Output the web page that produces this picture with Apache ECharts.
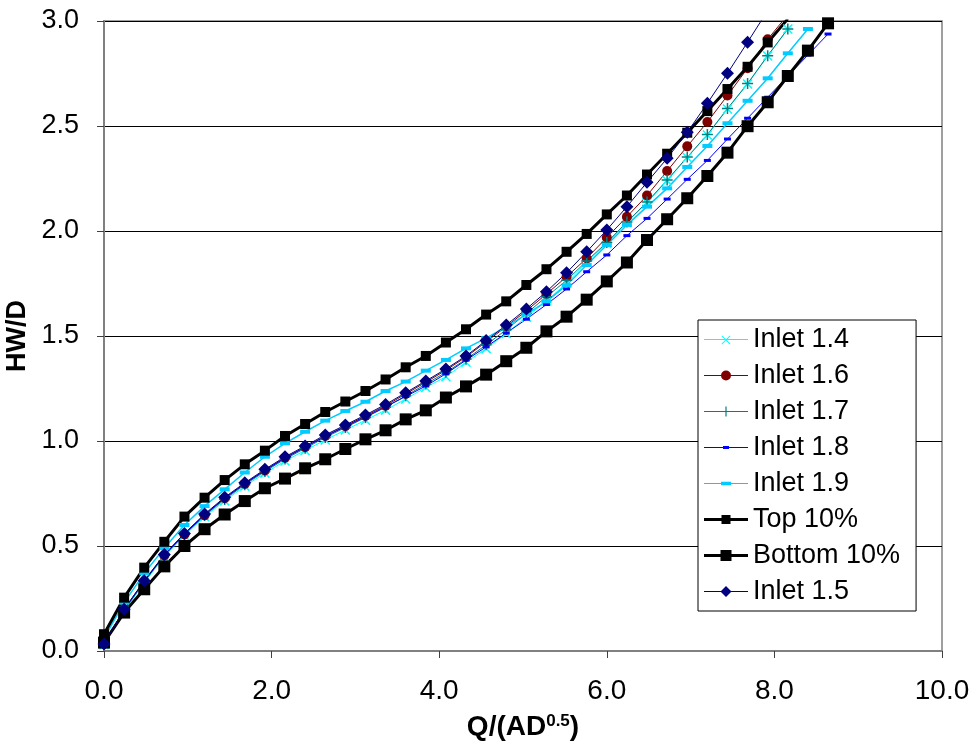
<!DOCTYPE html>
<html>
<head>
<meta charset="utf-8">
<title>Headwater depth vs. discharge</title>
<script src="https://cdn.jsdelivr.net/npm/echarts@6/dist/echarts.min.js"></script>
<style>
  html, body { margin: 0; padding: 0; background: #fff; }
  #chart { width: 975px; height: 746px; }
</style>
</head>
<body>
<div id="chart"></div>
<script>
// Discharge intensity Q/(A·D^0.5), shared by every curve
const q = [0, 0.24, 0.48, 0.72, 0.96, 1.2, 1.44, 1.68, 1.92, 2.16, 2.4, 2.64, 2.88, 3.12,
  3.36, 3.6, 3.84, 4.08, 4.32, 4.56, 4.8, 5.04, 5.28, 5.52, 5.76, 6.0, 6.24, 6.48, 6.72,
  6.96, 7.2, 7.44, 7.68, 7.92, 8.16, 8.4, 8.64];

// Headwater depth HW/D for each curve
const inlet14 = [0.030, 0.190, 0.325, 0.450, 0.550, 0.640, 0.715, 0.785, 0.847, 0.905, 0.955,
  1.005, 1.052, 1.099, 1.147, 1.200, 1.255, 1.306, 1.375, 1.440, 1.512, 1.590, 1.667, 1.751,
  1.851, 1.941, 2.040, 2.135, 2.240, 2.350, 2.457, 2.581, 2.700, 2.833, 2.962];
const inlet16 = [0.035, 0.195, 0.330, 0.455, 0.555, 0.646, 0.727, 0.796, 0.860, 0.920, 0.971,
  1.024, 1.071, 1.119, 1.168, 1.224, 1.280, 1.337, 1.400, 1.472, 1.545, 1.620, 1.700, 1.782,
  1.870, 1.969, 2.068, 2.169, 2.286, 2.403, 2.519, 2.645, 2.775, 2.913, 3.030];
const inlet17 = [0.032, 0.195, 0.330, 0.455, 0.555, 0.645, 0.722, 0.792, 0.855, 0.914, 0.965,
  1.017, 1.064, 1.112, 1.161, 1.215, 1.271, 1.327, 1.389, 1.458, 1.530, 1.607, 1.687, 1.765,
  1.857, 1.945, 2.043, 2.138, 2.243, 2.352, 2.459, 2.583, 2.702, 2.835, 2.962];
const inlet18 = [0.035, 0.198, 0.333, 0.457, 0.557, 0.648, 0.728, 0.797, 0.860, 0.919, 0.970,
  1.022, 1.068, 1.115, 1.163, 1.212, 1.262, 1.320, 1.385, 1.448, 1.514, 1.580, 1.650, 1.724,
  1.806, 1.886, 1.978, 2.060, 2.152, 2.246, 2.336, 2.438, 2.537, 2.637, 2.737, 2.838, 2.938];
const inlet19 = [0.060, 0.230, 0.370, 0.490, 0.600, 0.690, 0.770, 0.850, 0.925, 0.989, 1.044,
  1.097, 1.143, 1.187, 1.238, 1.283, 1.335, 1.386, 1.441, 1.490, 1.545, 1.603, 1.665, 1.742,
  1.838, 1.933, 2.029, 2.116, 2.203, 2.305, 2.405, 2.513, 2.620, 2.727, 2.846, 2.962];
const top10 = [0.080, 0.254, 0.397, 0.520, 0.640, 0.730, 0.814, 0.889, 0.954, 1.024, 1.081,
  1.138, 1.188, 1.238, 1.293, 1.351, 1.405, 1.469, 1.532, 1.602, 1.665, 1.743, 1.818, 1.901,
  1.986, 2.079, 2.169, 2.269, 2.368, 2.468, 2.571, 2.676, 2.782, 2.898, 3.010];
const bottom10 = [0.040, 0.183, 0.294, 0.403, 0.500, 0.580, 0.650, 0.714, 0.775, 0.821, 0.870,
  0.913, 0.962, 1.008, 1.051, 1.103, 1.146, 1.207, 1.260, 1.316, 1.380, 1.444, 1.522, 1.592,
  1.673, 1.760, 1.850, 1.957, 2.056, 2.156, 2.262, 2.373, 2.499, 2.613, 2.738, 2.859, 2.989];
const inlet15 = [0.033, 0.199, 0.335, 0.460, 0.560, 0.652, 0.732, 0.801, 0.865, 0.925, 0.976,
  1.029, 1.076, 1.124, 1.174, 1.230, 1.286, 1.343, 1.405, 1.478, 1.552, 1.629, 1.711, 1.801,
  1.901, 2.005, 2.116, 2.232, 2.346, 2.470, 2.608, 2.751, 2.899, 3.050];

const seriesNames = ['Inlet 1.4', 'Inlet 1.6', 'Inlet 1.7', 'Inlet 1.8', 'Inlet 1.9',
  'Top 10%', 'Bottom 10%', 'Inlet 1.5'];

const xTicks = { min: 0, max: 10, step: 2 };
const yTicks = { min: 0, max: 3, step: 0.5 };

function pairs(ys) {
  return ys.map((y, i) => [q[i], y]);
}

// Plot markers
const CROSS = 'path://M0,0L10,10M10,0L0,10';
const PLUS = 'path://M5,0L5,10M0,5L10,5';

// Legend swatches: a 44x16 box holding the line and its marker, all shapes wound the same way
const BOX = 'M0,0L0.05,0L0,0.05Z M44,16L43.95,16L44,15.95Z ';
const THIN = 'M0,7.5L44,7.5L44,8.5L0,8.5Z ';
const THICK = 'M0,6.5L44,6.5L44,9.5L0,9.5Z ';
const legendIcons = {
  'Inlet 1.4': 'path://' + BOX + THIN + 'M17.5,4.7L18.2,4L26.5,12.3L25.8,13Z M25.8,4L26.5,4.7L18.2,13L17.5,12.3Z',
  'Inlet 1.6': 'path://' + BOX + THIN + 'M17,8A5,5 0 1,1 27,8A5,5 0 1,1 17,8Z',
  'Inlet 1.7': 'path://' + BOX + THIN + 'M21.4,3L22.6,3L22.6,13L21.4,13Z M17,7.4L27,7.4L27,8.6L17,8.6Z',
  'Inlet 1.8': 'path://' + BOX + THIN + 'M19,6.6L25,6.6L25,9.4L19,9.4Z',
  'Inlet 1.9': 'path://' + BOX + THIN + 'M17,6.3L27,6.3L27,9.7L17,9.7Z',
  'Top 10%': 'path://' + BOX + THICK + 'M17.5,3.5L26.5,3.5L26.5,12.5L17.5,12.5Z',
  'Bottom 10%': 'path://' + BOX + THICK + 'M16.5,2.5L27.5,2.5L27.5,13.5L16.5,13.5Z',
  'Inlet 1.5': 'path://' + BOX + THIN + 'M22,2.5L27.5,8L22,13.5L16.5,8Z'
};

const colors = {
  'Inlet 1.4': '#00FFFF', 'Inlet 1.6': '#800000', 'Inlet 1.7': '#008080',
  'Inlet 1.8': '#0000FF', 'Inlet 1.9': '#00CCFF', 'Top 10%': '#000000',
  'Bottom 10%': '#000000', 'Inlet 1.5': '#000080'
};

function lineSeries(name, ys, width, symbol, size, stroked) {
  const color = colors[name];
  return {
    name: name,
    type: 'line',
    data: pairs(ys),
    clip: true,
    symbol: symbol,
    symbolSize: size,
    symbolKeepAspect: true,
    showAllSymbol: true,
    lineStyle: { color: color, width: width },
    itemStyle: stroked
      ? { color: 'rgba(0,0,0,0)', borderColor: color, borderWidth: 1.5 }
      : { color: color, borderColor: color, borderWidth: 0 },
    emphasis: { disabled: true },
    animation: false
  };
}

const chart = echarts.init(document.getElementById('chart'), null, { renderer: 'canvas' });

chart.setOption({
  backgroundColor: '#ffffff',
  animation: false,
  grid: {
    left: 104, right: 33, top: 21, bottom: 95,
    containLabel: false,
    outerBoundsMode: 'none',
    show: true, borderColor: '#808080', borderWidth: 1.5, backgroundColor: 'transparent'
  },
  xAxis: {
    type: 'value',
    min: xTicks.min, max: xTicks.max, interval: xTicks.step,
    name: '{a|Q/(AD}{s|0.5}{a|)}',
    nameLocation: 'middle',
    nameGap: 62,
    nameTextStyle: {
      rich: {
        a: { fontFamily: 'Liberation Sans Narrow, Liberation Sans, Arial', fontWeight: 'bold', fontSize: 28, color: '#000' },
        s: { fontFamily: 'Liberation Sans Narrow, Liberation Sans, Arial', fontWeight: 'bold', fontSize: 17, color: '#000', verticalAlign: 'top', padding: [0, 0, 12, 0] }
      }
    },
    axisLine: { show: true, onZero: false, lineStyle: { color: '#808080', width: 2 } },
    axisTick: { show: true, inside: false, length: 7, lineStyle: { color: '#404040', width: 1 } },
    axisLabel: {
      margin: 26,
      fontFamily: 'Liberation Sans Narrow, Liberation Sans, Arial',
      fontSize: 28, color: '#000',
      formatter: v => v.toFixed(1)
    },
    splitLine: { show: false }
  },
  yAxis: {
    type: 'value',
    min: yTicks.min, max: yTicks.max, interval: yTicks.step,
    name: 'HW/D',
    nameLocation: 'middle',
    nameGap: 60,
    nameRotate: 90,
    nameTextStyle: { fontFamily: 'Liberation Sans Narrow, Liberation Sans, Arial', fontWeight: 'bold', fontSize: 27, color: '#000' },
    axisLine: { show: true, onZero: false, lineStyle: { color: '#808080', width: 2 } },
    axisTick: { show: true, inside: false, length: 7, lineStyle: { color: '#404040', width: 1 } },
    axisLabel: {
      margin: 25,
      fontFamily: 'Liberation Sans, Arial',
      fontSize: 27, color: '#000',
      formatter: v => v.toFixed(1)
    },
    splitLine: { show: true, lineStyle: { color: '#000', width: 1 } }
  },
  legend: {
    orient: 'vertical',
    left: 698, top: 320,
    data: seriesNames.map(n => ({
      name: n,
      icon: legendIcons[n],
      itemStyle: { color: colors[n], borderWidth: 0 }
    })),
    symbolKeepAspect: false,
    backgroundColor: '#fff',
    borderColor: '#000',
    borderWidth: 1,
    borderRadius: 0,
    padding: [6, 16, 6, 6],
    itemWidth: 44,
    itemHeight: 16,
    itemGap: 9,
    textStyle: { fontFamily: 'Liberation Sans, Arial', fontSize: 27, color: '#000', padding: [0, 0, 0, 0] },
    selectedMode: false
  },
  series: [
    lineSeries('Inlet 1.4', inlet14, 1, CROSS, 9, true),
    lineSeries('Inlet 1.6', inlet16, 1, 'circle', 10, false),
    lineSeries('Inlet 1.7', inlet17, 1, PLUS, 11, true),
    lineSeries('Inlet 1.8', inlet18, 1, 'rect', [7, 3], false),
    lineSeries('Inlet 1.9', inlet19, 1.5, 'rect', [10, 4], false),
    lineSeries('Top 10%', top10, 3, 'rect', 10, false),
    lineSeries('Bottom 10%', bottom10, 3, 'rect', 12, false),
    lineSeries('Inlet 1.5', inlet15, 1, 'diamond', 13, false)
  ]
});
</script>
</body>
</html>
